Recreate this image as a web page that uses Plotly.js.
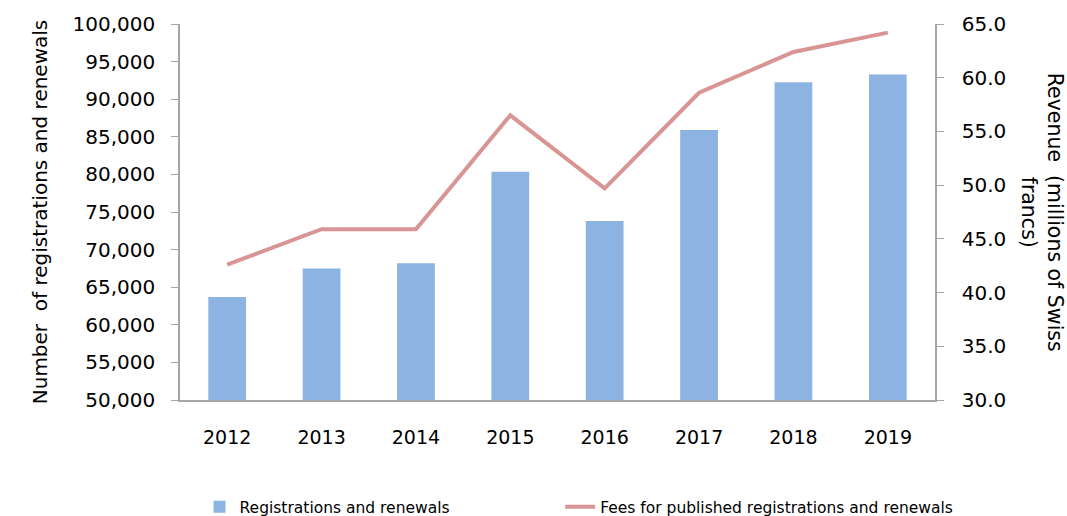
<!DOCTYPE html>
<html>
<head>
<meta charset="utf-8">
<script src="https://cdn.plot.ly/plotly-3.0.1.min.js"></script>
<style>
  html, body { margin: 0; padding: 0; background: #fff; }
  #chart { width: 1067px; height: 516px; }
</style>
</head>
<body>
<div id="chart"></div>
<script>
// Data
const years = ['2012', '2013', '2014', '2015', '2016', '2017', '2018', '2019'];
const registrations = [63700, 67500, 68200, 80350, 73800, 85900, 92250, 93300];
const fees = [42.6, 45.9, 45.9, 56.5, 49.7, 58.6, 62.4, 64.2];
const leftTicks = [50000, 55000, 60000, 65000, 70000, 75000, 80000, 85000, 90000, 95000, 100000];
const rightTicks = [30, 35, 40, 45, 50, 55, 60, 65];

const font = 'DejaVu Sans, sans-serif';
const axisGrey = '#a6a6a6';

const barTrace = {
    x: years,
    y: registrations,
    type: 'bar',
    name: 'Registrations and renewals',
    marker: { color: '#8db3e2' },
    yaxis: 'y',
    legend: 'legend'
};

const lineTrace = {
    x: years,
    y: fees,
    type: 'scatter',
    mode: 'lines',
    name: 'Fees for published registrations and renewals',
    line: { color: '#d99594', width: 4 },
    yaxis: 'y2',
    legend: 'legend2'
};

// one legend per series so each entry can sit where the original puts it
const legendBase = {
    orientation: 'h',
    xref: 'container', yref: 'container',
    xanchor: 'left',
    y: 0.017, yanchor: 'middle',
    font: { size: 15.5 },
    bgcolor: 'rgba(0,0,0,0)'
};

const layout = {
    width: 1067,
    height: 516,
    margin: { l: 180, r: 132, t: 24, b: 116 },
    paper_bgcolor: '#fff',
    plot_bgcolor: '#fff',
    font: { family: font, size: 20, color: '#000' },
    bargap: 0.6,
    showlegend: true,
    legend: Object.assign({}, legendBase, { x: 0.187 }),
    legend2: Object.assign({}, legendBase, { x: 0.525 }),
    xaxis: {
        type: 'category',
        range: [-0.5, 7.5],
        showline: true,
        linecolor: axisGrey,
        linewidth: 1.5,
        ticks: '',
        tickfont: { size: 19 },
        ticklabelstandoff: 19,
        showgrid: false
    },
    yaxis: {
        range: [50000, 100000],
        tickvals: leftTicks,
        ticktext: leftTicks.map(v => v.toLocaleString('en-US')),
        showline: true,
        linecolor: axisGrey,
        linewidth: 1.5,
        ticks: 'outside',
        ticklen: 7,
        tickcolor: axisGrey,
        ticklabelstandoff: 12,
        showgrid: false,
        zeroline: false,
        title: { text: 'Number  of registrations and renewals', font: { size: 20 }, standoff: 20 }
    },
    yaxis2: {
        overlaying: 'y',
        side: 'right',
        range: [30, 65],
        tickvals: rightTicks,
        ticktext: rightTicks.map(v => v.toFixed(1)),
        showline: true,
        linecolor: axisGrey,
        linewidth: 1.5,
        ticks: 'outside',
        ticklen: 7,
        tickcolor: axisGrey,
        ticklabelstandoff: 14,
        showgrid: false,
        zeroline: false
    },
    annotations: [{
        text: 'Revenue  (millions of Swiss<br>francs)',
        xref: 'paper', yref: 'paper',
        x: 1.142, y: 0.5,
        xanchor: 'center', yanchor: 'middle',
        textangle: 90,
        showarrow: false,
        font: { size: 20.5 }
    }]
};

Plotly.newPlot('chart', [barTrace, lineTrace], layout, { displayModeBar: false });
</script>
</body>
</html>
